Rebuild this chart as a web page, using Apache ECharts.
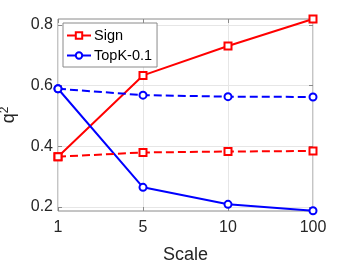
<!DOCTYPE html>
<html><head><meta charset="utf-8">
<script src="https://cdn.jsdelivr.net/npm/echarts@6/dist/echarts.min.js"></script>
<style>html,body{margin:0;padding:0;background:#fff}#c{width:346px;height:260px}</style>
</head><body><div id="c"></div>
<script>
const categories = ['1', '5', '10', '100'];
const signSolid = [0.366, 0.634, 0.731, 0.820];
const signDashed = [0.366, 0.380, 0.383, 0.385];
const topkSolid = [0.590, 0.265, 0.209, 0.188];
const topkDashed = [0.590, 0.569, 0.564, 0.563];
const yTicks = [0.2, 0.4, 0.6, 0.8];

const font = 'Liberation Sans, Arial, sans-serif';
const txt = '#262626';
const chart = echarts.init(document.getElementById('c'));
const mk = (name, data, color, sym, dashed) => ({
  name, type: 'line', data, symbol: sym, symbolSize: 7, showSymbol: true,
  lineStyle: {color, width: 2, type: dashed ? [8, 4] : 'solid'},
  itemStyle: {color, borderColor: color, borderWidth: 1.8},
  animation: false, z: 3
});
chart.setOption({
  animation: false,
  grid: {left: 58, right: 33, top: 19, bottom: 49, show: true, borderColor: '#8a8a8a', borderWidth: 1,
    containLabel: false, outerBoundsMode: 'none'},
  legend: {
    data: ['Sign', 'TopK-0.1'], orient: 'vertical', left: 63, top: 23,
    backgroundColor: '#fff', borderColor: '#8a8a8a', borderWidth: 1,
    padding: [5, 5, 4, 3], itemGap: 5, itemWidth: 24, itemHeight: 8,
    textStyle: {fontFamily: font, fontSize: 14.5, color: '#000', padding: [0, 0, 0, -2]}
  },
  xAxis: [{
    type: 'category', data: categories, boundaryGap: false,
    name: 'Scale', nameLocation: 'middle', nameGap: 35,
    nameTextStyle: {fontFamily: font, fontSize: 18, color: txt},
    axisLine: {show: false},
    axisTick: {show: true, inside: true, length: 4, lineStyle: {color: '#8a8a8a'}},
    axisLabel: {fontFamily: font, fontSize: 16, color: txt, margin: 9},
    splitLine: {show: true, lineStyle: {color: '#e6e6e6', width: 1}}
  }, {
    type: 'category', data: categories, boundaryGap: false, position: 'top',
    axisLine: {show: false}, axisLabel: {show: false},
    axisTick: {show: true, inside: true, length: 4, lineStyle: {color: '#8a8a8a'}}
  }],
  yAxis: [{
    type: 'value', min: 0.187, max: 0.82,
    name: '{a|q}{b|2}', nameLocation: 'middle', nameGap: 38, nameRotate: 90,
    nameTextStyle: {fontFamily: font, fontSize: 18, color: txt,
      rich: {a: {fontFamily: font, fontSize: 18, color: txt},
             b: {fontFamily: font, fontSize: 12, color: txt, padding: [0, 0, 9, 0]}}},
    axisLine: {show: false},
    axisTick: {show: true, inside: true, length: 4, customValues: yTicks, lineStyle: {color: '#8a8a8a'}},
    axisLabel: {fontFamily: font, fontSize: 16, color: txt, margin: 5, customValues: yTicks,
      formatter: v => v.toFixed(1)},
    splitLine: {show: true, lineStyle: {color: '#e6e6e6', width: 1}}
  }, {
    type: 'value', min: 0.187, max: 0.82, position: 'right',
    axisLine: {show: false}, axisLabel: {show: false}, splitLine: {show: false},
    axisTick: {show: true, inside: true, length: 4, customValues: yTicks, lineStyle: {color: '#8a8a8a'}}
  }],
  series: [
    mk('Sign', signSolid, '#ff0000', 'emptyRect', false),
    mk('TopK-0.1', topkSolid, '#0000ff', 'emptyCircle', false),
    mk('Sign (dashed)', signDashed, '#ff0000', 'emptyRect', true),
    mk('TopK-0.1 (dashed)', topkDashed, '#0000ff', 'emptyCircle', true)
  ]
});
</script></body></html>
